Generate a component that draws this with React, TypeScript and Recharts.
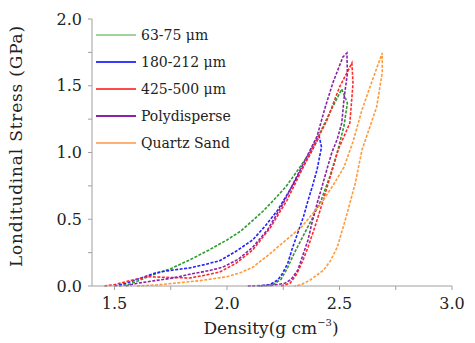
import React from "react";
import { LineChart, Line, XAxis, YAxis } from "recharts";

type Pt = { x: number; y: number };
const pts = (a: number[][]): Pt[] => a.map(([x, y]) => ({ x, y }));

// density (g cm^-3), stress (GPa): loading branch then unloading branch
const fine63 = pts([
  [1.52, 0], [1.56, 0.01], [1.6, 0.035], [1.656, 0.075], [1.75, 0.13], [1.834, 0.195],
  [1.92, 0.27], [2.0, 0.345], [2.06, 0.41], [2.114, 0.49], [2.16, 0.56], [2.2, 0.63],
  [2.26, 0.74], [2.32, 0.88], [2.368, 1.0], [2.42, 1.17], [2.466, 1.33], [2.51, 1.475],
  [2.535, 1.37], [2.52, 1.2], [2.49, 1.0], [2.457, 0.82], [2.42, 0.65], [2.377, 0.5],
  [2.34, 0.38], [2.3, 0.25], [2.27, 0.14], [2.24, 0.05], [2.2, 0.005], [2.15, 0],
]);
const mid180 = pts([
  [1.5, 0], [1.55, 0.02], [1.6, 0.05], [1.687, 0.1], [1.76, 0.12], [1.834, 0.135],
  [1.9, 0.16], [1.968, 0.19], [2.04, 0.26], [2.114, 0.345], [2.17, 0.45], [2.226, 0.57],
  [2.28, 0.72], [2.33, 0.87], [2.37, 0.99], [2.41, 1.12],
  [2.42, 1.04], [2.4, 0.87], [2.38, 0.75], [2.36, 0.64], [2.34, 0.52], [2.315, 0.4],
  [2.29, 0.28], [2.27, 0.17], [2.245, 0.09], [2.226, 0.045], [2.19, 0.01], [2.14, 0],
]);
const coarse425 = pts([
  [1.455, 0], [1.5, 0.01], [1.58, 0.045], [1.65, 0.07], [1.72, 0.065], [1.834, 0.06],
  [1.9, 0.08], [1.968, 0.105], [2.04, 0.17], [2.114, 0.27], [2.19, 0.43], [2.266, 0.64],
  [2.33, 0.86], [2.39, 1.06], [2.444, 1.24], [2.5, 1.49], [2.555, 1.67],
  [2.56, 1.52], [2.546, 1.22], [2.52, 1.12], [2.494, 1.02], [2.47, 0.88], [2.45, 0.77],
  [2.42, 0.6], [2.39, 0.44], [2.36, 0.29], [2.337, 0.19], [2.31, 0.09], [2.28, 0.02], [2.24, 0],
]);
const polydisperse = pts([
  [1.55, 0], [1.6, 0.02], [1.68, 0.04], [1.76, 0.06], [1.84, 0.09], [1.92, 0.115],
  [1.98, 0.14], [2.05, 0.2], [2.114, 0.29], [2.18, 0.42], [2.25, 0.62], [2.31, 0.82],
  [2.37, 1.02], [2.4, 1.12], [2.435, 1.33], [2.47, 1.52], [2.515, 1.715], [2.533, 1.745],
  [2.535, 1.59], [2.52, 1.4], [2.51, 1.22], [2.49, 1.1], [2.466, 1.0], [2.44, 0.85],
  [2.42, 0.73], [2.404, 0.64], [2.38, 0.49], [2.36, 0.345], [2.335, 0.22], [2.315, 0.12],
  [2.285, 0.05], [2.257, 0.02], [2.2, 0.005], [2.09, 0],
]);
const quartz = pts([
  [1.6, 0], [1.7, 0.01], [1.76, 0.02], [1.88, 0.04], [2.0, 0.07], [2.06, 0.1],
  [2.114, 0.14], [2.19, 0.24], [2.266, 0.35], [2.33, 0.44], [2.41, 0.6], [2.47, 0.75],
  [2.52, 0.89], [2.56, 1.08], [2.6, 1.32], [2.65, 1.56], [2.69, 1.745],
  [2.69, 1.6], [2.665, 1.34], [2.6, 1.02], [2.57, 0.77], [2.53, 0.52],
  [2.49, 0.29], [2.46, 0.19], [2.43, 0.12], [2.37, 0.045], [2.33, 0.01], [2.3, 0],
]);

const seriesNames = ["63-75 μm", "180-212 μm", "425-500 μm", "Polydisperse", "Quartz Sand"];
const seriesData = [fine63, mid180, coarse425, polydisperse, quartz];
const seriesColors = ["#2f9a2f", "#2222ff", "#ff2a2a", "#8a22a8", "#ff9a3c"];
const legendColors = ["#9fd49f", "#3a3aff", "#ff4a4a", "#8a22a8", "#ffb070"];

const xTicks = [1.5, 1.75, 2.0, 2.25, 2.5, 2.75, 3.0];
const yTicks = [0, 0.25, 0.5, 0.75, 1.0, 1.25, 1.5, 1.75, 2.0];

const font = "'DejaVu Serif', serif";
const axisColor = "#a0a0a0";
const majorOnly = (v: number) => (Math.abs(v * 2 - Math.round(v * 2)) < 1e-6 ? v.toFixed(1) : "");

const XLabel = (props: any) => {
  const vb = props.viewBox || {};
  const cx = vb.x + vb.width / 2;
  return (
    <text x={cx - 1} y={334} textAnchor="middle" fontFamily={font} fontSize={17} fill="#222">
      <tspan>Density(g cm</tspan>
      <tspan dy={-8} fontSize={10}>−3</tspan>
      <tspan dy={8}>)</tspan>
    </text>
  );
};

const YLabel = () => (
  <text
    x={22}
    y={146}
    transform="rotate(-90 22 146)"
    textAnchor="middle"
    fontFamily={font}
    fontSize={17}
    letterSpacing={0.8}
    fill="#222"
  >
    Londitudinal Stress (GPa)
  </text>
);

export default function App() {
  return (
    <div style={{ position: "absolute", left: 0, top: 0, width: 475, height: 343, background: "#fff" }}>
      <LineChart width={475} height={343} margin={{ top: 19, right: 23, left: 0, bottom: 0 }}>
        <XAxis
          dataKey="x"
          type="number"
          domain={[1.4, 3.0]}
          ticks={xTicks}
          allowDuplicatedCategory={false}
          tickFormatter={majorOnly}
          stroke={axisColor}
          tickSize={4}
          tickMargin={8}
          height={57}
          tick={{ fontFamily: font, fontSize: 16, fill: "#222" }}
          label={<XLabel />}
        />
        <YAxis
          dataKey="y"
          type="number"
          domain={[0, 2]}
          ticks={yTicks}
          tickFormatter={majorOnly}
          stroke={axisColor}
          tickSize={4}
          tickMargin={6}
          width={92}
          tick={{ fontFamily: font, fontSize: 16, fill: "#222" }}
          label={<YLabel />}
        />
        {seriesData.map((d, i) => (
          <Line
            key={seriesNames[i]}
            data={d}
            dataKey="y"
            name={seriesNames[i]}
            type="linear"
            stroke={seriesColors[i]}
            strokeWidth={1.6}
            strokeDasharray="3 1.5"
            dot={false}
            isAnimationActive={false}
          />
        ))}
      </LineChart>
      <div
        style={{
          position: "absolute",
          left: 96,
          top: 22,
          fontFamily: font,
          fontSize: 14,
          color: "#222",
        }}
      >
        {seriesNames.map((n, i) => (
          <div key={n} style={{ display: "flex", alignItems: "center", height: 26.8 }}>
            <svg width={40} height={4} style={{ marginRight: 5 }}>
              <line x1={0} y1={2} x2={40} y2={2} stroke={legendColors[i]} strokeWidth={2} />
            </svg>
            <span>{n}</span>
          </div>
        ))}
      </div>
    </div>
  );
}
